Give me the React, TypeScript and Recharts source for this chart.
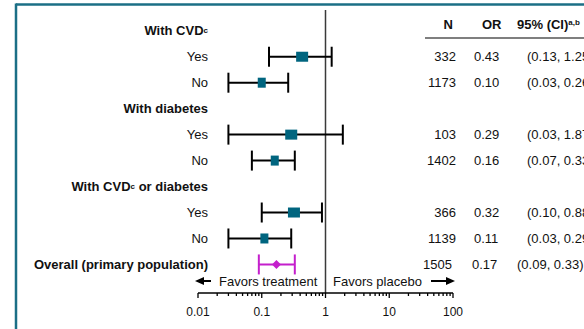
import { ScatterChart, Scatter, XAxis, YAxis, ErrorBar, ReferenceLine } from 'recharts'

const rowLabels = [
  'With CVD^c',
  'Yes',
  'No',
  'With diabetes',
  'Yes',
  'No',
  'With CVD^c or diabetes',
  'Yes',
  'No',
  'Overall (primary population)',
]
const rowKinds = ['group', 'sub', 'sub', 'group', 'sub', 'sub', 'group', 'sub', 'sub', 'total']
const nValues = [null, 332, 1173, null, 103, 1402, null, 366, 1139, 1505]
const orValues = [null, 0.43, 0.1, null, 0.29, 0.16, null, 0.32, 0.11, 0.17]
const ciLow = [null, 0.13, 0.03, null, 0.03, 0.07, null, 0.1, 0.03, 0.09]
const ciHigh = [null, 1.25, 0.26, null, 1.87, 0.33, null, 0.88, 0.29, 0.33]

const majorTicks = [0.01, 0.1, 1, 10, 100]
const axisTicks = [
  0.01, 0.02, 0.03, 0.04, 0.05, 0.06, 0.07, 0.08, 0.09,
  0.1, 0.2, 0.3, 0.4, 0.5, 0.6, 0.7, 0.8, 0.9,
  1, 2, 3, 4, 5, 6, 7, 8, 9,
  10, 20, 30, 40, 50, 60, 70, 80, 90,
  100,
]
const rowTicks = [0, 1, 2, 3, 4, 5, 6, 7, 8, 9]

const TEAL = '#00657f'
const FRAME = '#1b6f86'
const MAGENTA = '#c41fcc'
const FONT = '"Liberation Sans", Arial, sans-serif'

const points = rowLabels
  .map((label, i) => ({
    row: i,
    label,
    kind: rowKinds[i],
    or: orValues[i],
    err: orValues[i] == null ? null : [orValues[i]! - ciLow[i]!, ciHigh[i]! - orValues[i]!],
  }))
  .filter((p) => p.or != null)

const subgroupPoints = points.filter((p) => p.kind === 'sub')
const overallPoints = points.filter((p) => p.kind === 'total')

function renderLabel(label: string) {
  const parts = label.split('^c')
  if (parts.length === 1) return label
  return (
    <>
      {parts[0]}
      <tspan fontSize={8} dy={-2}>c</tspan>
      <tspan dy={2}>{parts[1]}</tspan>
    </>
  )
}

function RowTick(props: any) {
  const { y, payload } = props
  const i = payload.value
  const kind = rowKinds[i]
  const bold = kind !== 'sub'
  const shift = kind === 'total' ? 1 : 0
  return (
    <g fontFamily={FONT} fontSize={13} fill="#111">
      <text x={208} y={y} dy="0.35em" textAnchor="end" fontWeight={bold ? 700 : 400} fill="#111">
        {renderLabel(rowLabels[i])}
      </text>
      {nValues[i] != null && (
        <>
          <text x={456 - shift * 4} y={y} dy="0.35em" textAnchor="end" fill="#111">
            {nValues[i]}
          </text>
          <text x={474 - shift * 2} y={y} dy="0.35em" fill="#111">
            {orValues[i]!.toFixed(2)}
          </text>
          <text x={527 - shift * 10} y={y} dy="0.35em" fill="#111">
            {`(${ciLow[i]!.toFixed(2)}, ${ciHigh[i]!.toFixed(2)})`}
          </text>
        </>
      )}
    </g>
  )
}

function LogTick(props: any) {
  const { x, y, payload } = props
  const major = majorTicks.includes(payload.value)
  return (
    <g>
      <line x1={x} x2={x} y1={y} y2={y + (major ? 5 : 3)} stroke="#000" strokeWidth={1.3} />
      {major && (
        <text x={x} y={y + 23} textAnchor="middle" fontFamily={FONT} fontSize={12} fill="#111">
          {String(payload.value)}
        </text>
      )}
    </g>
  )
}

function SquareMarker(props: any) {
  const { cx, cy, payload } = props
  const w = payload.label === 'Yes' ? 12 : 8
  return <rect x={cx - w / 2} y={cy - 5} width={w} height={10} fill={TEAL} />
}

function DiamondMarker(props: any) {
  const { cx, cy } = props
  const r = 4.5
  return (
    <polygon
      points={`${cx},${cy - r} ${cx + r},${cy} ${cx},${cy + r} ${cx - r},${cy}`}
      fill={MAGENTA}
    />
  )
}

export default function App() {
  return (
    <div style={{ position: 'fixed', left: 0, top: 0, width: 584, height: 329, background: '#fff' }}>
      <ScatterChart width={584} height={329} margin={{ top: 10, right: 131, bottom: 6, left: 0 }}>
        <XAxis
          dataKey="or"
          type="number"
          scale="log"
          domain={[0.01, 100]}
          allowDataOverflow
          ticks={axisTicks}
          interval={0}
          height={30}
          tickSize={0}
          tickMargin={0}
          tickLine={false}
          axisLine={{ stroke: '#000', strokeWidth: 1.5 }}
          tick={<LogTick />}
        />
        <YAxis
          dataKey="row"
          type="number"
          domain={[-0.8, 10.1]}
          reversed
          ticks={rowTicks}
          interval={0}
          width={198}
          axisLine={false}
          tickLine={false}
          tick={<RowTick />}
        />
        <ReferenceLine x={1} stroke="#3a3a3a" strokeWidth={1.5} />
        <Scatter data={subgroupPoints} isAnimationActive={false} shape={<SquareMarker />}>
          <ErrorBar dataKey="err" direction="x" width={10} strokeWidth={2} stroke="#000" isAnimationActive={false} />
        </Scatter>
        <Scatter data={overallPoints} isAnimationActive={false} shape={<DiamondMarker />}>
          <ErrorBar dataKey="err" direction="x" width={10} strokeWidth={2} stroke={MAGENTA} isAnimationActive={false} />
        </Scatter>
      </ScatterChart>
      <svg
        width={584}
        height={329}
        style={{ position: 'absolute', left: 0, top: 0, pointerEvents: 'none' }}
        fontFamily={FONT}
      >
        <line x1={16} x2={584} y1={4.5} y2={4.5} stroke={FRAME} strokeWidth={2.5} />
        <line x1={16} x2={16} y1={3.5} y2={329} stroke={FRAME} strokeWidth={2.5} />
        <g fontSize={13} fontWeight={700} fill="#111">
          <text x={453} y={28.5} textAnchor="end">N</text>
          <text x={482} y={28.5}>OR</text>
          <text x={517} y={28.5}>
            95% (CI)<tspan fontSize={8} dy={-4}>a,b</tspan>
          </text>
        </g>
        <line x1={425} x2={584} y1={38} y2={38} stroke="#000" strokeWidth={1.2} />
        <g fill="#111" fontSize={13}>
          <line x1={202} x2={211} y1={281} y2={281} stroke="#000" strokeWidth={2} />
          <polygon points="195,281 204,277 204,285" fill="#000" />
          <text x={219} y={285.5}>Favors treatment</text>
          <text x={333} y={285.5}>Favors placebo</text>
          <line x1={431} x2={448} y1={281} y2={281} stroke="#000" strokeWidth={2} />
          <polygon points="455,281 446,277 446,285" fill="#000" />
        </g>
      </svg>
    </div>
  )
}
